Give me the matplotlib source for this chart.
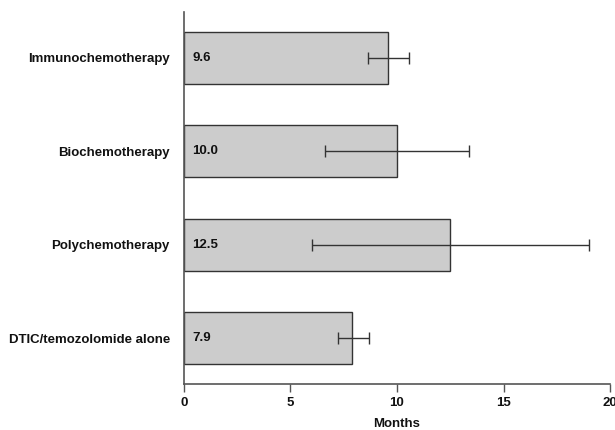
import matplotlib.pyplot as plt
import numpy as np

plt.rcParams['font.family'] = ['Liberation Sans', 'DejaVu Sans']
plt.rcParams['font.weight'] = 'bold'

# data (bottom to top)
categories = ['DTIC/temozolomide alone', 'Polychemotherapy', 'Biochemotherapy', 'Immunochemotherapy']
median_months = [7.9, 12.5, 10.0, 9.6]
ci_low = [7.23, 6.0, 6.6, 8.64]
ci_high = [8.69, 19.0, 13.4, 10.56]
value_labels = ['7.9', '12.5', '10.0', '9.6']

fig = plt.figure(figsize=(6.15, 4.3), dpi=100)
ax = fig.add_axes([0.299, 0.107, 0.693, 0.865])

y = np.arange(len(categories))
vals = np.array(median_months)
xerr = np.vstack([vals - np.array(ci_low), np.array(ci_high) - vals])

ax.barh(y, vals, height=0.56, color='#cccccc', edgecolor='#333333', linewidth=1.0)
ax.errorbar(vals, y, xerr=xerr, fmt='none', ecolor='#333333', elinewidth=1.0,
            capsize=4, capthick=1.0)

for yi, lab in zip(y, value_labels):
    ax.text(0.4, yi, lab, va='center', ha='left', fontsize=9.5, fontweight='bold', color='#111111')

ax.set_xlim(0, 20)
ax.set_ylim(-0.49, 3.49)
ax.set_xticks([0, 5, 10, 15, 20])
ax.set_yticks(y)
ax.set_yticklabels(categories, fontsize=9.5, fontweight='bold', color='#111111')
ax.tick_params(axis='y', length=0, pad=10)
ax.tick_params(axis='x', length=6, width=1, color='#555555', labelsize=9.5, labelcolor='#111111')
ax.set_xlabel('Months', fontsize=9.5, fontweight='bold', color='#111111', labelpad=6)

for s in ['top', 'right']:
    ax.spines[s].set_visible(False)
for s in ['left', 'bottom']:
    ax.spines[s].set_color('#555555')
    ax.spines[s].set_linewidth(1.2)

fig.savefig('out.png', dpi=100)
